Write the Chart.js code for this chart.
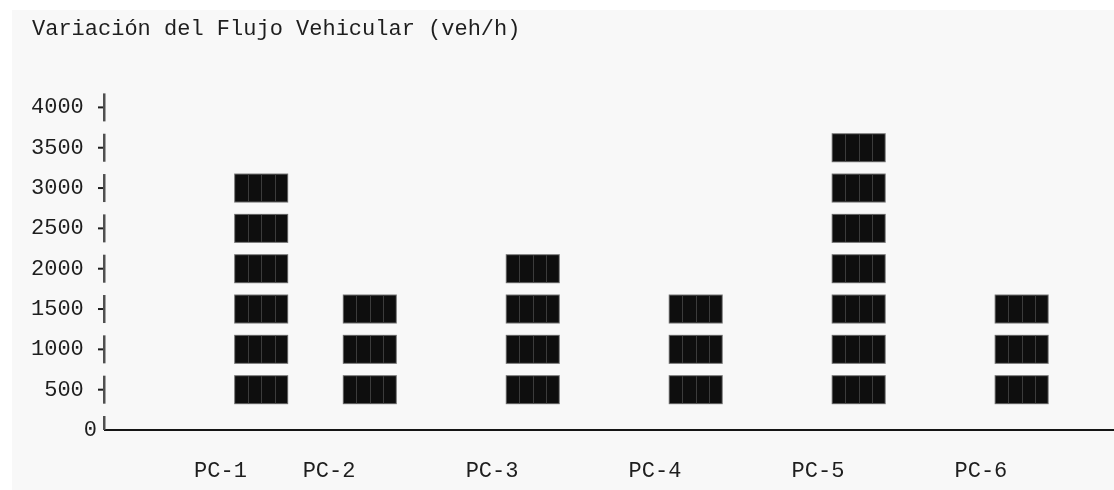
<!DOCTYPE html>
<html>
<head>
<meta charset="utf-8">
<title>Variación del Flujo Vehicular</title>
<script src="https://cdn.jsdelivr.net/npm/chart.js@4/dist/chart.umd.min.js"></script>
<style>
    html, body { margin: 0; padding: 0; background: #ffffff; }
    #wrap { position: relative; width: 1114px; height: 490px; }
    #bg { position: absolute; left: 12px; top: 10px; right: 0; bottom: 0; background: #f8f8f8; }
    #myChart { position: absolute; left: 0; top: 0; }
</style>
</head>
<body>
<div id="wrap">
    <div id="bg"></div>
    <canvas id="myChart" width="1114" height="490"></canvas>
</div>
<script>
const chartTitle = "Variación del Flujo Vehicular (veh/h)";
const categories = ["PC-1", "PC-2", "PC-3", "PC-4", "PC-5", "PC-6"];
const flows = [3000, 1500, 2000, 1500, 3500, 1500];
const yTicks = [0, 500, 1000, 1500, 2000, 2500, 3000, 3500, 4000];
const blockStep = 500;

// text-grid layout: column where each bar is centred; labels sit 3 columns to the left
const barCols = [12, 20, 32, 44, 56, 68];
const labelShift = -3;

const FONT = { family: "'Liberation Mono', 'DejaVu Sans Mono', monospace", size: 22 };
const INK = "#1e1e1e";

// draws each bar as stacked rows of "████" glyph blocks, one row per tick step
const blockBars = {
    id: "blockBars",
    afterDatasetsDraw(chart) {
        const ctx = chart.ctx;
        const y = chart.scales.y;
        const meta = chart.getDatasetMeta(0);
        const rowH = 29;
        ctx.save();
        meta.data.forEach((bar, i) => {
            const left = bar.x - bar.width / 2;
            const cell = bar.width / 4;
            for (let v = blockStep; v <= flows[i]; v += blockStep) {
                const top = y.getPixelForValue(v) - rowH / 2;
                ctx.fillStyle = "#6e6e6e";
                ctx.fillRect(left, top, bar.width, rowH);
                ctx.fillStyle = "#0e0e0e";
                ctx.fillRect(left + 1, top + 1, bar.width - 2, rowH - 2);
                ctx.fillStyle = "#3c3c3c";
                for (let c = 1; c < 4; c++) {
                    ctx.fillRect(Math.round(left + c * cell), top + 1, 1, rowH - 2);
                }
            }
        });
        ctx.restore();
    },
};

// the "┤" and "└" glyphs of the text axis
const glyphAxis = {
    id: "glyphAxis",
    afterDraw(chart) {
        const ctx = chart.ctx;
        const y = chart.scales.y;
        const ax = chart.chartArea.left;
        ctx.save();
        y.ticks.forEach((t) => {
            const cy = y.getPixelForValue(t.value);
            ctx.fillStyle = "#505050";
            if (t.value === 0) {
                ctx.fillRect(ax - 2, cy - 14, 2.5, 14);
            } else {
                ctx.fillRect(ax - 2, cy - 14, 2.5, 28);
                ctx.fillStyle = INK;
                ctx.fillRect(ax - 7, cy - 1, 5, 2);
            }
        });
        ctx.restore();
    },
};

const ctx = document.querySelector("#myChart");

new Chart(ctx, {
    type: "bar",
    data: {
        datasets: [
            {
                label: chartTitle,
                data: flows.map((v, i) => ({ x: barCols[i], y: v })),
                backgroundColor: "rgba(0,0,0,0)",
                borderWidth: 0,
                barThickness: 54,
            },
        ],
    },
    options: {
        responsive: false,
        animation: false,
        events: [],
        layout: { padding: { left: 32, top: 0, right: 0, bottom: 0 } },
        plugins: {
            legend: { display: false },
            tooltip: { enabled: false },
            title: {
                display: true,
                text: chartTitle,
                align: "start",
                color: INK,
                font: { ...FONT, weight: "normal" },
                padding: { top: 16, bottom: 65 },
            },
        },
        scales: {
            x: {
                type: "linear",
                offset: false,
                min: 0.5,
                max: 74.8,
                afterBuildTicks: (s) => {
                    s.ticks = barCols.map((c) => ({ value: c + labelShift }));
                },
                afterFit: (s) => {
                    s.height = 60;
                },
                ticks: {
                    autoSkip: false,
                    maxRotation: 0,
                    padding: 28,
                    color: INK,
                    font: FONT,
                    callback: (v, i) => categories[i],
                },
                grid: { display: false, drawTicks: false, offset: false },
                border: { display: true, color: "#151515", width: 2 },
            },
            y: {
                min: 0,
                max: 4000,
                afterBuildTicks: (s) => {
                    s.ticks = yTicks.map((v) => ({ value: v }));
                },
                afterFit: (s) => {
                    s.width = 73;
                },
                ticks: {
                    padding: 8,
                    color: INK,
                    font: FONT,
                    callback: (v) => (v === 0 ? "0" : v + " "),
                },
                grid: { display: false, drawTicks: false },
                border: { display: false },
            },
        },
    },
    plugins: [blockBars, glyphAxis],
});
</script>
</body>
</html>
